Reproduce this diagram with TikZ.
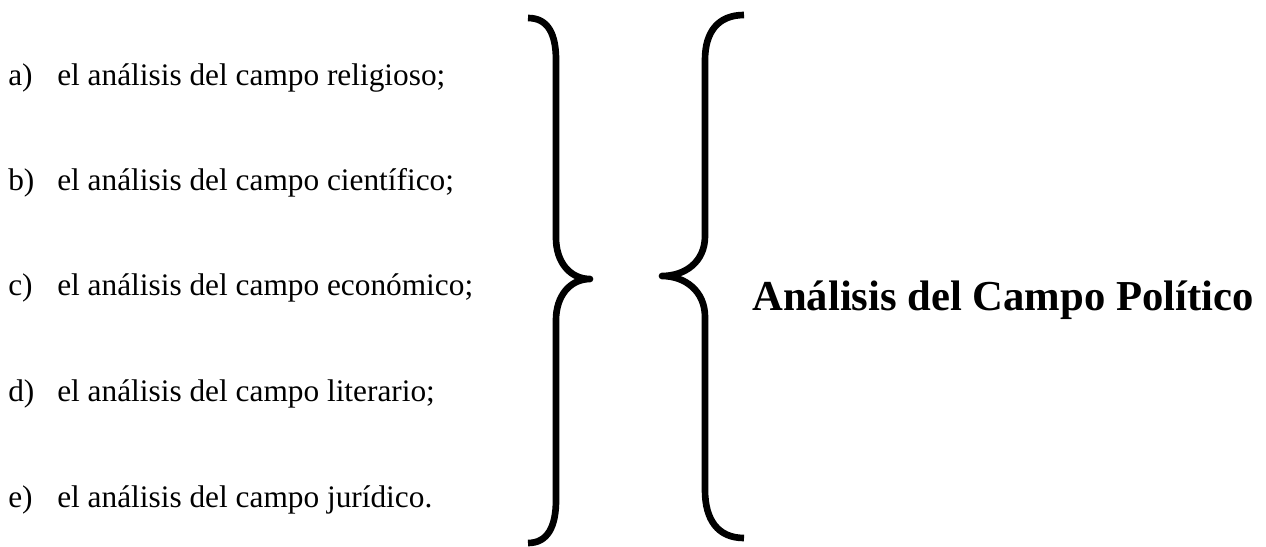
\documentclass[tikz,border=0pt]{standalone}
\usepackage{fontspec}
\setmainfont{Liberation Serif}
\begin{document}
\begin{tikzpicture}[x=0.75pt,y=-0.75pt,
  brace/.style={line width=5pt,line cap=butt,line join=round},
  item/.style={anchor=base west,inner sep=0pt,font=\fontsize{23.5}{28}\selectfont},
  title/.style={anchor=base west,inner sep=0pt,font=\fontsize{32}{38}\selectfont\bfseries}]
\useasboundingbox (0,0) rectangle (1266,546);
% items
\foreach \lab/\txt/\yy [count=\i] in {a)/el análisis del campo religioso;/85,
  b)/el análisis del campo científico;/190,
  c)/el análisis del campo económico;/295,
  d)/el análisis del campo literario;/401,
  e)/el análisis del campo jurídico./507}{
  \node[item] (l\i) at (8,\yy) {\lab};
  \node[item] (t\i) at (57,\yy) {\txt};
}
% right brace
\draw[brace] (528,18) .. controls (548,18) and (556,34) .. (556,60)
  -- (556,238) .. controls (556,262) and (570,279) .. (590,279)
  .. controls (570,279) and (556,296) .. (556,320)
  -- (556,500) .. controls (556,526) and (548,543) .. (528,543);
% left brace
\draw[brace] (744,15) .. controls (718,15) and (705,32) .. (705,60)
  -- (705,236) .. controls (705,262) and (685,276) .. (662,276)
  .. controls (685,276) and (705,291) .. (705,317)
  -- (705,490) .. controls (705,520) and (718,538) .. (744,538);
\node[title] (tt) at (752,310) {Análisis del Campo Político};
\end{tikzpicture}
\end{document}
